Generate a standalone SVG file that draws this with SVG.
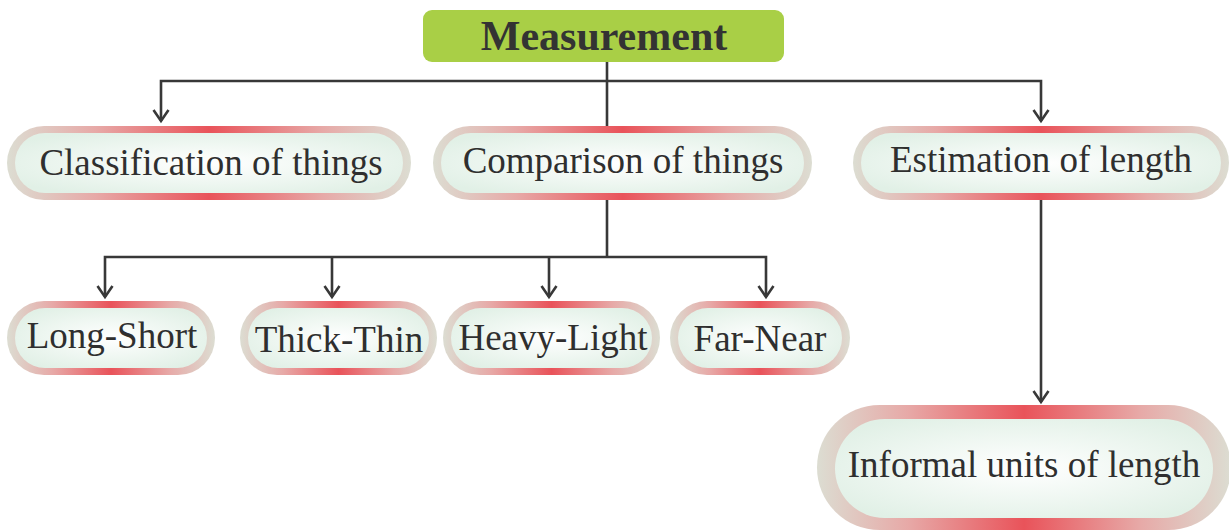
<svg xmlns="http://www.w3.org/2000/svg" width="1229" height="531" viewBox="0 0 1229 531">
<style>
.outer{fill:url(#rim)}
.inner{fill:url(#core)}
.lbl{font-family:"Liberation Serif","Times New Roman",serif;font-size:37px;fill:#2f2f2f;text-anchor:middle}
.title{font-family:"Liberation Serif","Times New Roman",serif;font-size:42px;font-weight:bold;fill:#333;text-anchor:middle}
.conn path{fill:none;stroke:#383838;stroke-width:2.6}
</style>
<defs>
<linearGradient id="rim" x1="0" y1="0" x2="1" y2="0">
<stop offset="0" stop-color="#dcddd2"/>
<stop offset="0.22" stop-color="#e7a9a7"/>
<stop offset="0.5" stop-color="#e9535a"/>
<stop offset="0.78" stop-color="#e7a9a7"/>
<stop offset="1" stop-color="#dcddd2"/>
</linearGradient>
<radialGradient id="core" cx="0.5" cy="0.5" r="0.6">
<stop offset="0" stop-color="#ffffff"/>
<stop offset="1" stop-color="#e1f0e6"/>
</radialGradient>
<marker id="arr" markerUnits="userSpaceOnUse" markerWidth="24" markerHeight="24" refX="0" refY="0" viewBox="-14 -12 16 24" orient="auto">
<path d="M-11,-7.5 L0,0 L-11,7.5" fill="none" stroke="#383838" stroke-width="2.6"/>
</marker>
</defs>

<g class="conn" id="connectors">
<path d="M607,62 V126"/>
<path d="M607,81 H161 V121" marker-end="url(#arr)"/>
<path d="M607,81 H1041 V121" marker-end="url(#arr)"/>
<path d="M607,200 V257"/>
<path d="M607,257 H105 V297" marker-end="url(#arr)"/>
<path d="M332,257 V297" marker-end="url(#arr)"/>
<path d="M549,257 V297" marker-end="url(#arr)"/>
<path d="M607,257 H766 V297" marker-end="url(#arr)"/>
<path d="M1041,200 V402" marker-end="url(#arr)"/>
</g>

<g id="measurement">
<rect x="423" y="10" width="361" height="52" rx="9" fill="#a9cf46"/>
<text class="title" x="604" y="50">Measurement</text>
</g>

<g id="classification">
<rect class="outer" x="7" y="126" width="404" height="74" rx="37"/>
<rect class="inner" x="15" y="133" width="388" height="60" rx="30"/>
<text class="lbl" x="211" y="175">Classification of things</text>
</g>

<g id="comparison">
<rect class="outer" x="433" y="126" width="379" height="74" rx="37"/>
<rect class="inner" x="441" y="133" width="363" height="60" rx="30"/>
<text class="lbl" x="623" y="173">Comparison of things</text>
</g>

<g id="estimation">
<rect class="outer" x="853" y="126" width="376" height="74" rx="37"/>
<rect class="inner" x="861" y="133" width="360" height="60" rx="30"/>
<text class="lbl" x="1041" y="172">Estimation of length</text>
</g>

<g id="long-short">
<rect class="outer" x="7" y="301" width="208" height="74" rx="37"/>
<rect class="inner" x="15" y="308" width="192" height="60" rx="30"/>
<text class="lbl" x="112" y="348">Long-Short</text>
</g>

<g id="thick-thin">
<rect class="outer" x="240" y="301" width="197" height="74" rx="37"/>
<rect class="inner" x="248" y="308" width="181" height="60" rx="30"/>
<text class="lbl" x="339" y="352">Thick-Thin</text>
</g>

<g id="heavy-light">
<rect class="outer" x="443" y="301" width="217" height="74" rx="37"/>
<rect class="inner" x="451" y="308" width="201" height="60" rx="30"/>
<text class="lbl" x="553" y="350">Heavy-Light</text>
</g>

<g id="far-near">
<rect class="outer" x="670" y="301" width="180" height="74" rx="37"/>
<rect class="inner" x="678" y="308" width="164" height="60" rx="30"/>
<text class="lbl" x="760" y="351">Far-Near</text>
</g>

<g id="informal">
<rect class="outer" x="817" y="405" width="414" height="125" rx="62.5"/>
<rect class="inner" x="835" y="419" width="378" height="99" rx="49.5"/>
<text class="lbl" x="1024" y="477">Informal units of length</text>
</g>
</svg>
